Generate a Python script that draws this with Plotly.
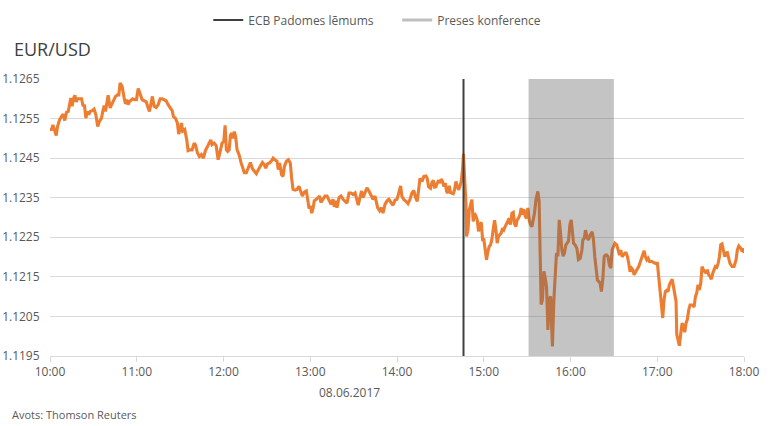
import pandas as pd
import plotly.graph_objects as go

# minutes after 10:00 on 08.06.2017
minutes = [
    0, 1.0, 2.0, 3.1, 4.3, 5.2, 6.6, 7.9, 9.1, 10.2,
    11.4, 12.6, 13.5, 14.4, 15.3, 16.2, 17.2, 18.1, 19.0, 20.4,
    21.8, 22.9, 23.8, 24.8, 25.9, 26.8, 27.8, 29.2, 30.5, 31.7,
    33.0, 34.2, 35.6, 36.5, 37.5, 38.4, 39.3, 40.2, 41.6, 42.5,
    43.9, 45.3, 46.7, 47.6, 48.5, 49.9, 51.3, 52.2, 53.1, 54.0,
    55.0, 55.9, 57.2, 58.6, 59.8, 61.0, 62.3, 63.7, 65.1, 66.5,
    67.9, 68.8, 69.7, 70.8, 72.0, 73.4, 74.8, 76.2, 77.6, 78.9,
    80.3, 81.7, 83.1, 84.5, 85.4, 86.7, 88.1, 89.0, 90.0, 90.9,
    91.8, 93.2, 94.6, 95.5, 96.9, 98.3, 99.7, 100.6, 102.0, 103.3,
    104.7, 106.1, 107.5, 108.9, 110.2, 111.2, 112.1, 113.5, 114.9, 116.3,
    117.2, 118.5,
    119.0, 120.2, 121.1, 122.0, 122.9, 123.9, 124.8, 125.7, 126.6, 127.5,
    128.4, 129.4, 130.8, 132.2, 133.5, 134.4, 135.8, 137.2, 138.6, 140.0,
    141.4, 142.7, 144.1, 145.5, 146.9, 148.3, 149.2, 150.5, 151.9, 153.3,
    154.3, 155.6, 157.0, 157.9, 158.8, 160.2, 161.2, 162.1, 163.5, 164.9,
    166.2, 167.1, 168.1, 169.5, 170.9, 172.2, 173.6, 174.5, 175.9, 177.3,
    178.2, 179.2, 180.1, 181.0, 181.9, 182.8, 184.2, 185.6, 186.5, 187.4,
    188.8, 190.2, 191.6, 193.0, 194.4, 195.7, 196.6, 197.6, 198.5, 199.9,
    201.3, 202.7, 204.0, 205.4, 206.8, 208.2, 209.6, 211.0, 211.9, 213.2,
    214.1, 215.5, 216.5, 217.9, 219.2, 220.6, 222.0, 223.4, 224.8, 225.7,
    226.6, 228.0, 229.3, 230.3, 231.7, 233.1, 234.4, 235.8, 237.2, 238.6,
    240.0, 240.9,
    242.5, 243.4, 244.8, 246.2, 247.6, 249.0, 250.3, 251.7, 252.6, 254.0,
    254.9, 255.9, 257.3, 258.6, 260.0, 260.9, 261.8, 263.2, 264.2, 265.1,
    266.0, 266.9, 267.8, 268.8, 269.7, 270.6, 271.5, 272.5, 273.4, 274.3,
    275.2, 276.1, 277.0, 278.0, 278.9, 279.8, 280.8, 281.7, 282.6, 283.5,
    284.4, 285.3, 286.0, 286.7, 287.7, 288.1, 289.1, 290.0, 290.9, 291.8,
    292.7, 293.6, 294.6, 295.5, 296.4, 297.4, 298.3, 299.2, 300.1, 301.0,
    301.9, 302.9, 303.8, 304.7, 305.6, 306.5, 307.5, 308.4, 309.3, 310.2,
    311.2, 312.1, 313.0, 313.9, 314.8, 315.7, 316.7, 317.6, 318.5, 319.5,
    320.4, 321.3, 322.2, 323.1, 324.0, 325.0, 325.9, 326.8, 327.8, 328.7,
    329.6, 330.5, 331.4, 332.3, 333.3, 334.2, 335.1, 336.1, 337.4, 338.3,
    338.8, 339.2, 339.7, 340.6, 341.6, 342.5, 343.4, 344.4, 345.3, 346.2,
    347.1, 347.5, 348.5, 349.4, 350.3, 351.3, 352.2, 353.1, 354.0, 354.9,
    355.8, 356.8, 357.7, 358.6, 359.6, 360.5,
    362.1, 363.2, 364.4, 365.5, 366.7, 367.9, 368.5, 369.5, 370.4, 371.3,
    372.4, 373.6, 375.0, 375.9, 376.8, 377.7, 378.6, 379.6, 380.5, 381.4,
    382.4, 383.3, 384.2, 385.1, 386.0, 386.9, 387.9, 388.8, 389.7, 390.7,
    392.0, 392.9, 393.9, 394.8, 395.7, 396.6, 397.6, 398.5, 399.4, 400.3,
    401.2, 402.2, 403.1, 404.0, 404.9, 405.9, 407.2, 408.6, 410.0, 410.9,
    411.8, 412.8, 413.7, 414.6, 416.0, 417.4, 418.7, 420.1, 421.0, 422.0,
    422.9, 423.8, 424.7, 425.6, 426.6, 427.5, 428.4, 429.3, 430.3, 431.2,
    432.1, 433.0, 433.5, 434.4, 435.3, 436.3, 437.2, 438.1, 439.0, 439.9,
    440.8, 441.8, 442.7, 444.1, 445.5, 446.4, 447.3, 448.2, 449.1, 450.1,
    451.0, 451.9, 452.8, 453.8, 454.7, 455.6, 456.5, 457.4, 458.4, 459.3,
    460.2, 461.2, 462.1, 463.0, 463.9, 464.8, 465.8, 466.7, 467.6, 468.5,
    469.4, 470.3, 471.7, 473.1, 474.5, 475.4, 476.4, 477.8, 478.7, 479.6,
    480.0,
]

eurusd = [
    1.12526, 1.12520, 1.12534, 1.12522, 1.12507, 1.12530, 1.12547, 1.12555, 1.12561, 1.12545,
    1.12566, 1.12568, 1.12581, 1.12602, 1.12581, 1.12600, 1.12609, 1.12592, 1.12600, 1.12600,
    1.12600, 1.12581, 1.12585, 1.12551, 1.12568, 1.12560, 1.12568, 1.12570, 1.12574, 1.12560,
    1.12530, 1.12543, 1.12551, 1.12568, 1.12583, 1.12568, 1.12589, 1.12609, 1.12577, 1.12585,
    1.12598, 1.12606, 1.12610, 1.12610, 1.12640, 1.12631, 1.12602, 1.12587, 1.12598, 1.12585,
    1.12593, 1.12595, 1.12600, 1.12598, 1.12598, 1.12626, 1.12610, 1.12598, 1.12595, 1.12593,
    1.12577, 1.12568, 1.12585, 1.12606, 1.12581, 1.12578, 1.12585, 1.12600, 1.12600, 1.12598,
    1.12595, 1.12585, 1.12577, 1.12570, 1.12555, 1.12551, 1.12539, 1.12511, 1.12522, 1.12539,
    1.12518, 1.12522, 1.12496, 1.12469, 1.12471, 1.12471, 1.12488, 1.12484, 1.12463, 1.12454,
    1.12459, 1.12450, 1.12469, 1.12480, 1.12492, 1.12496, 1.12484, 1.12488, 1.12482, 1.12446,
    1.12459, 1.12484,
    1.12488, 1.12492, 1.12533, 1.12471, 1.12467, 1.12471, 1.12508, 1.12513, 1.12500, 1.12517,
    1.12504, 1.12471, 1.12458, 1.12438, 1.12421, 1.12413, 1.12413, 1.12429, 1.12439, 1.12423,
    1.12417, 1.12411, 1.12421, 1.12429, 1.12439, 1.12433, 1.12425, 1.12436, 1.12438, 1.12444,
    1.12450, 1.12446, 1.12442, 1.12421, 1.12438, 1.12408, 1.12404, 1.12429, 1.12442, 1.12446,
    1.12438, 1.12400, 1.12371, 1.12369, 1.12371, 1.12379, 1.12363, 1.12354, 1.12364, 1.12367,
    1.12346, 1.12323, 1.12329, 1.12311, 1.12323, 1.12342, 1.12346, 1.12350, 1.12354, 1.12338,
    1.12346, 1.12354, 1.12354, 1.12342, 1.12333, 1.12346, 1.12327, 1.12342, 1.12325, 1.12350,
    1.12354, 1.12346, 1.12342, 1.12336, 1.12362, 1.12362, 1.12358, 1.12362, 1.12350, 1.12331,
    1.12346, 1.12367, 1.12350, 1.12364, 1.12375, 1.12367, 1.12358, 1.12346, 1.12354, 1.12342,
    1.12325, 1.12317, 1.12325, 1.12311, 1.12333, 1.12342, 1.12346, 1.12338, 1.12331, 1.12344,
    1.12346, 1.12358,
    1.12380, 1.12353, 1.12345, 1.12341, 1.12335, 1.12346, 1.12362, 1.12368, 1.12353, 1.12341,
    1.12378, 1.12399, 1.12391, 1.12404, 1.12405, 1.12399, 1.12378, 1.12374, 1.12389, 1.12394,
    1.12377, 1.12378, 1.12387, 1.12394, 1.12387, 1.12397, 1.12391, 1.12378, 1.12387, 1.12366,
    1.12362, 1.12380, 1.12363, 1.12362, 1.12360, 1.12370, 1.12391, 1.12380, 1.12370, 1.12378,
    1.12391, 1.12420, 1.12461, 1.12404, 1.12336, 1.12252, 1.12269, 1.12320, 1.12332, 1.12345,
    1.12290, 1.12311, 1.12303, 1.12294, 1.12265, 1.12282, 1.12288, 1.12244, 1.12244, 1.12219,
    1.12193, 1.12214, 1.12227, 1.12231, 1.12244, 1.12269, 1.12293, 1.12269, 1.12235, 1.12252,
    1.12256, 1.12261, 1.12273, 1.12269, 1.12277, 1.12284, 1.12290, 1.12298, 1.12282, 1.12311,
    1.12313, 1.12284, 1.12277, 1.12294, 1.12298, 1.12307, 1.12324, 1.12307, 1.12321, 1.12303,
    1.12298, 1.12324, 1.12294, 1.12282, 1.12277, 1.12294, 1.12311, 1.12345, 1.12366, 1.12341,
    1.12261, 1.12134, 1.12080, 1.12092, 1.12164, 1.12147, 1.12126, 1.12016, 1.12092, 1.12101,
    1.12016, 1.11974, 1.12092, 1.12151, 1.12210, 1.12202, 1.12294, 1.12261, 1.12219, 1.12202,
    1.12210, 1.12231, 1.12235, 1.12240, 1.12282, 1.12294,
    1.12235, 1.12231, 1.12222, 1.12194, 1.12197, 1.12218, 1.12243, 1.12247, 1.12268, 1.12252,
    1.12243, 1.12256, 1.12264, 1.12243, 1.12201, 1.12176, 1.12142, 1.12138, 1.12134, 1.12113,
    1.12147, 1.12201, 1.12205, 1.12205, 1.12201, 1.12180, 1.12172, 1.12218, 1.12226, 1.12235,
    1.12231, 1.12218, 1.12205, 1.12218, 1.12201, 1.12205, 1.12210, 1.12210, 1.12201, 1.12184,
    1.12163, 1.12172, 1.12168, 1.12155, 1.12163, 1.12168, 1.12176, 1.12193, 1.12205, 1.12216,
    1.12201, 1.12193, 1.12197, 1.12189, 1.12189, 1.12186, 1.12184, 1.12184, 1.12147, 1.12100,
    1.12067, 1.12046, 1.12092, 1.12113, 1.12116, 1.12113, 1.12130, 1.12138, 1.12144, 1.12126,
    1.12109, 1.12088, 1.12004, 1.11987, 1.11976, 1.12008, 1.12033, 1.12025, 1.12010, 1.12033,
    1.12042, 1.12067, 1.12079, 1.12079, 1.12074, 1.12100, 1.12109, 1.12130, 1.12117, 1.12134,
    1.12176, 1.12168, 1.12163, 1.12159, 1.12168, 1.12155, 1.12151, 1.12144, 1.12159, 1.12168,
    1.12176, 1.12174, 1.12184, 1.12201, 1.12231, 1.12233, 1.12210, 1.12201, 1.12210, 1.12211,
    1.12197, 1.12184, 1.12176, 1.12176, 1.12193, 1.12218, 1.12228, 1.12222, 1.12214, 1.12222,
    1.12210,
]

day = "2017-06-08"
ecb_decision_time = "14:46"
press_conf = ["15:31", "16:30"]
x_range = ["10:00", "18:00"]
y_ticks = [1.1195, 1.1205, 1.1215, 1.1225, 1.1235, 1.1245, 1.1255, 1.1265]

assert len(minutes) == len(eurusd)

base = pd.Timestamp(f"{day} 10:00")
times = base + pd.to_timedelta(minutes, unit="min")

FONT = "Open Sans"
TXT = "#595959"

fig = go.Figure()
fig.add_trace(go.Scatter(
    x=times, y=eurusd, mode="lines",
    line=dict(color="#ed7d31", width=3.1),
    showlegend=False, hoverinfo="x+y",
))
fig.add_trace(go.Scatter(
    x=[None], y=[None], mode="lines", name="ECB Padomes lēmums",
    line=dict(color="#404040", width=2),
))
fig.add_trace(go.Scatter(
    x=[None], y=[None], mode="lines", name="Preses konference",
    line=dict(color="#bfbfbf", width=3),
))

fig.add_shape(type="rect", xref="x", yref="y domain",
              x0=f"{day} {press_conf[0]}", x1=f"{day} {press_conf[1]}",
              y0=0, y1=1, fillcolor="rgba(100,100,100,0.38)",
              line=dict(width=0), layer="above")
fig.add_shape(type="line", xref="x", yref="y domain",
              x0=f"{day} {ecb_decision_time}", x1=f"{day} {ecb_decision_time}",
              y0=0, y1=1, line=dict(color="#404040", width=2), layer="above")

fig.update_layout(
    width=768, height=426,
    margin=dict(l=50, r=24, t=79, b=70, autoexpand=False),
    paper_bgcolor="white", plot_bgcolor="white",
    font=dict(family=FONT, size=12, color=TXT),
    showlegend=True,
    legend=dict(orientation="h", x=0.228, xanchor="left", y=1.265, yanchor="top",
                font=dict(family=FONT, size=12, color=TXT),
                entrywidth=144, entrywidthmode="pixels", itemwidth=30,
                bgcolor="rgba(0,0,0,0)"),
    xaxis=dict(
        type="date", automargin=False,
        range=[f"{day} {x_range[0]}", f"{day} {x_range[1]}"],
        dtick=3600000, tickformat="%H:%M",
        ticks="outside", ticklen=5, tickcolor="#d9d9d9",
        showline=True, linecolor="#d9d9d9", linewidth=1,
        showgrid=False, zeroline=False,
        tickfont=dict(family=FONT, size=12, color=TXT),
    ),
    yaxis=dict(
        automargin=False,
        range=[y_ticks[0], y_ticks[-1]],
        tickvals=y_ticks, tickformat=".4f",
        showgrid=True, gridcolor="#d9d9d9", gridwidth=1,
        zeroline=False, showline=False,
        ticks="outside", ticklen=7, tickcolor="rgba(0,0,0,0)",
        tickfont=dict(family=FONT, size=12, color=TXT),
    ),
    annotations=[
        dict(text="EUR/USD", xref="paper", yref="paper", x=-0.055, y=1.11,
             xanchor="left", yanchor="middle", showarrow=False,
             font=dict(family=FONT, size=18, color="#404040")),
        dict(text="08.06.2017", xref="paper", yref="paper", x=0.432, y=-0.13,
             xanchor="center", yanchor="middle", showarrow=False,
             font=dict(family=FONT, size=12, color=TXT)),
        dict(text="Avots: Thomson Reuters", xref="paper", yref="paper", x=-0.058, y=-0.21,
             xanchor="left", yanchor="middle", showarrow=False,
             font=dict(family=FONT, size=11, color=TXT)),
    ],
)

fig.write_html("out.html")
